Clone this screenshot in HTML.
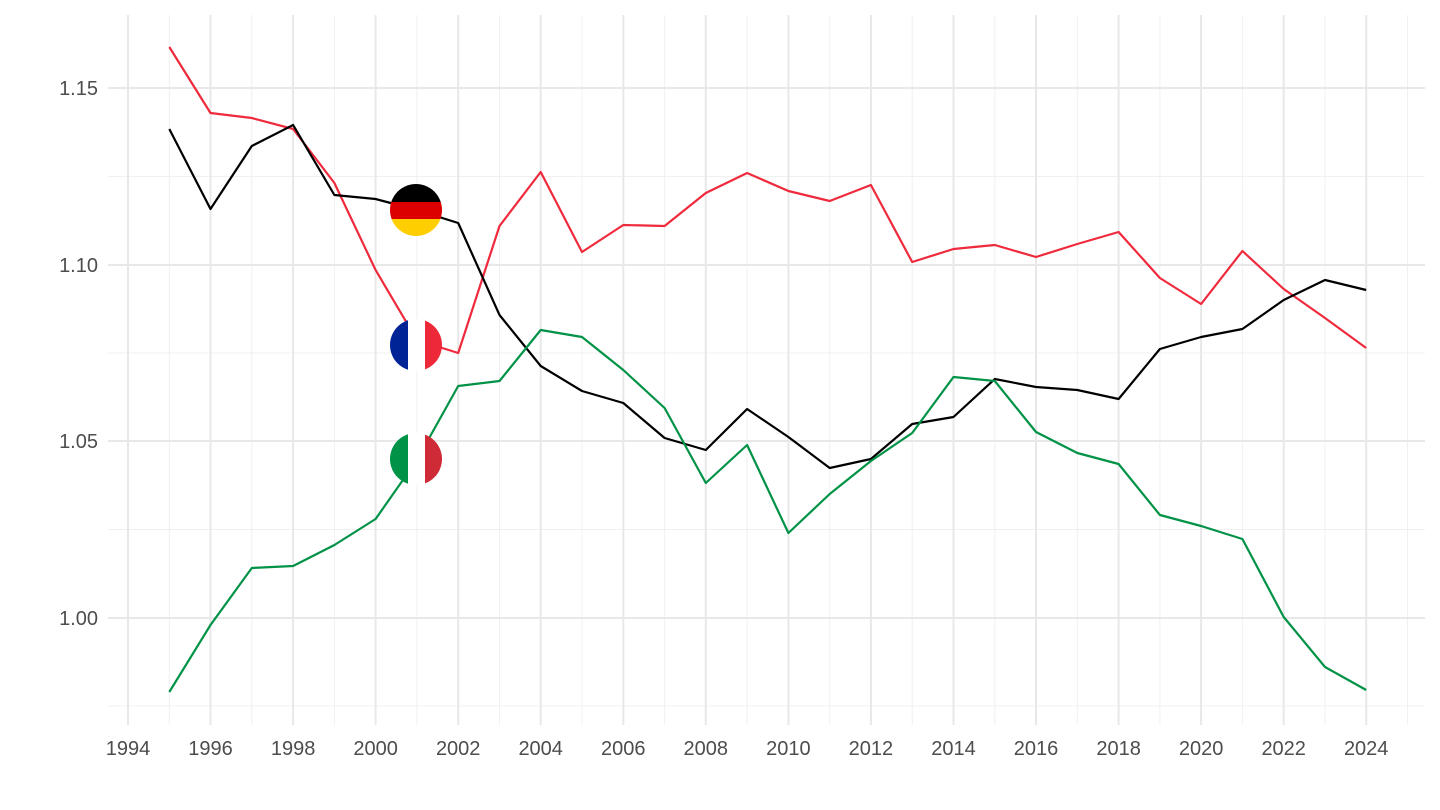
<!DOCTYPE html>
<html><head><meta charset="utf-8"><style>body{margin:0;background:#fff}svg{display:block;font-family:"Liberation Sans",sans-serif}</style></head>
<body>
<svg width="1440" height="810" viewBox="0 0 1440 810">
<defs>
<clipPath id="c1"><circle cx="416" cy="210" r="26"/></clipPath>
<clipPath id="c2"><circle cx="416" cy="345" r="26"/></clipPath>
<clipPath id="c3"><circle cx="416" cy="459" r="26"/></clipPath>
</defs>
<g stroke="#f0f0f0" stroke-width="1">
<line x1="108" x2="1425" y1="176.5" y2="176.5"/><line x1="108" x2="1425" y1="353" y2="353"/><line x1="108" x2="1425" y1="529.5" y2="529.5"/><line x1="108" x2="1425" y1="706" y2="706"/>
<line y1="15" y2="725" x1="169.3" x2="169.3"/><line y1="15" y2="725" x1="251.8" x2="251.8"/><line y1="15" y2="725" x1="334.4" x2="334.4"/><line y1="15" y2="725" x1="416.9" x2="416.9"/><line y1="15" y2="725" x1="499.5" x2="499.5"/><line y1="15" y2="725" x1="582" x2="582"/><line y1="15" y2="725" x1="664.6" x2="664.6"/><line y1="15" y2="725" x1="747.1" x2="747.1"/><line y1="15" y2="725" x1="829.7" x2="829.7"/><line y1="15" y2="725" x1="912.2" x2="912.2"/><line y1="15" y2="725" x1="994.8" x2="994.8"/><line y1="15" y2="725" x1="1077.3" x2="1077.3"/><line y1="15" y2="725" x1="1159.9" x2="1159.9"/><line y1="15" y2="725" x1="1242.4" x2="1242.4"/><line y1="15" y2="725" x1="1325" x2="1325"/><line y1="15" y2="725" x1="1407.5" x2="1407.5"/>
</g>
<g stroke="#e8e8e8" stroke-width="2">
<line x1="108" x2="1425" y1="88" y2="88"/><line x1="108" x2="1425" y1="265" y2="265"/><line x1="108" x2="1425" y1="441" y2="441"/><line x1="108" x2="1425" y1="618" y2="618"/>
<line y1="15" y2="725" x1="128" x2="128"/><line y1="15" y2="725" x1="210.5" x2="210.5"/><line y1="15" y2="725" x1="293.1" x2="293.1"/><line y1="15" y2="725" x1="375.6" x2="375.6"/><line y1="15" y2="725" x1="458.2" x2="458.2"/><line y1="15" y2="725" x1="540.7" x2="540.7"/><line y1="15" y2="725" x1="623.3" x2="623.3"/><line y1="15" y2="725" x1="705.8" x2="705.8"/><line y1="15" y2="725" x1="788.4" x2="788.4"/><line y1="15" y2="725" x1="870.9" x2="870.9"/><line y1="15" y2="725" x1="953.5" x2="953.5"/><line y1="15" y2="725" x1="1036" x2="1036"/><line y1="15" y2="725" x1="1118.6" x2="1118.6"/><line y1="15" y2="725" x1="1201.1" x2="1201.1"/><line y1="15" y2="725" x1="1283.7" x2="1283.7"/><line y1="15" y2="725" x1="1366.2" x2="1366.2"/>
</g>
<g fill="#4d4d4d" font-size="20" text-anchor="end">
<text x="98" y="95">1.15</text><text x="98" y="272">1.10</text><text x="98" y="448">1.05</text><text x="98" y="625">1.00</text>
</g>
<g fill="#4d4d4d" font-size="20" text-anchor="middle">
<text x="128" y="755">1994</text><text x="210.5" y="755">1996</text><text x="293.1" y="755">1998</text><text x="375.6" y="755">2000</text><text x="458.2" y="755">2002</text><text x="540.7" y="755">2004</text><text x="623.3" y="755">2006</text><text x="705.8" y="755">2008</text><text x="788.4" y="755">2010</text><text x="870.9" y="755">2012</text><text x="953.5" y="755">2014</text><text x="1036" y="755">2016</text><text x="1118.6" y="755">2018</text><text x="1201.1" y="755">2020</text><text x="1283.7" y="755">2022</text><text x="1366.2" y="755">2024</text>
</g>
<g fill="none" stroke-width="2.2" stroke-linejoin="round">
<polyline stroke="#ef2a3c" points="169.3,47 210.5,113 251.8,118 293.1,129 334.4,183 375.6,270 416.9,340 458.2,353 499.5,226 540.7,172 582,252 623.3,225 664.6,226 705.8,193 747.1,173 788.4,191 829.7,201 870.9,185 912.2,262 953.5,249 994.8,245 1036,257 1077.3,244 1118.6,232 1159.9,278 1201.1,304 1242.4,251 1283.7,289 1325,318 1366.2,348"/>
<polyline stroke="#000" points="169.3,129 210.5,209 251.8,146 293.1,125 334.4,195 375.6,199 416.9,210 458.2,223 499.5,315 540.7,366 582,391 623.3,403 664.6,438 705.8,450 747.1,409 788.4,437 829.7,468 870.9,459 912.2,424 953.5,417 994.8,379 1036,387 1077.3,390 1118.6,399 1159.9,349 1201.1,337 1242.4,329 1283.7,300 1325,280 1366.2,290"/>
<polyline stroke="#009246" points="169.3,692 210.5,625 251.8,568 293.1,566 334.4,545 375.6,519 416.9,460 458.2,386 499.5,381 540.7,330 582,337 623.3,370 664.6,408 705.8,483 747.1,445 788.4,533 829.7,494 870.9,461 912.2,433 953.5,377 994.8,381 1036,432 1077.3,453 1118.6,464 1159.9,515 1201.1,526 1242.4,539 1283.7,617 1325,667 1366.2,690"/>
</g>
<g clip-path="url(#c1)"><rect x="390" y="184" width="52" height="18" fill="#000"/><rect x="390" y="202" width="52" height="17" fill="#dd0000"/><rect x="390" y="219" width="52" height="17" fill="#ffce00"/></g>
<g clip-path="url(#c2)"><rect x="390" y="319" width="18" height="52" fill="#002395"/><rect x="408" y="319" width="17" height="52" fill="#fff"/><rect x="425" y="319" width="17" height="52" fill="#ed2939"/></g>
<g clip-path="url(#c3)"><rect x="390" y="433" width="18" height="52" fill="#009246"/><rect x="408" y="433" width="17" height="52" fill="#fff"/><rect x="425" y="433" width="17" height="52" fill="#ce2b37"/></g>
</svg>
</body></html>
